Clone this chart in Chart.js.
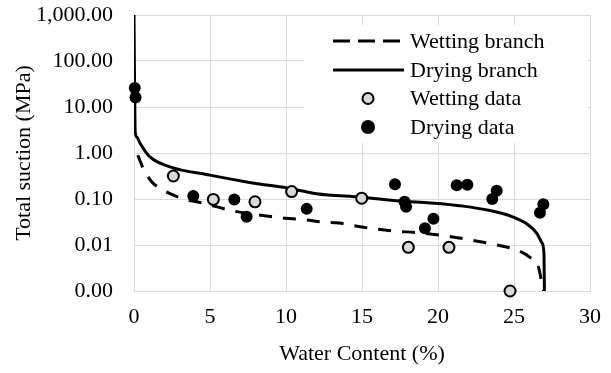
<!DOCTYPE html>
<html>
<head>
<meta charset="utf-8">
<script src="https://cdn.jsdelivr.net/npm/chart.js@4/dist/chart.umd.min.js"></script>
<style>
  html, body { margin: 0; padding: 0; background: #fff; }
  #wrap { width: 611px; height: 373px; }
</style>
</head>
<body>
<div id="wrap"><canvas id="suctionChart" width="611" height="373"></canvas></div>
<script>
// fitted curves
const wettingBranchW = [0.25, 0.61, 1.16, 1.71, 3.09, 4.6, 6.41, 8.18, 9.93, 11.4, 12.1, 13.5, 15.0, 17.0, 18.7, 20.5, 22.3, 23.9, 25.3, 26.05, 26.6, 26.8, 26.95];
const wettingBranchS = [0.9, 0.46, 0.238, 0.171, 0.105, 0.0806, 0.056, 0.0449, 0.038, 0.035, 0.0323, 0.030, 0.0245, 0.0202, 0.0185, 0.0158, 0.0126, 0.0100, 0.0075, 0.0054, 0.0034, 0.0017, 0.001];

const dryingBranchW = [0, 0.03, 0.07, 0.2, 0.39, 1.05, 2.37, 5.0, 7.8, 10.07, 12.0, 15.0, 17.5, 19.5, 21.66, 23.4, 24.9, 25.9, 26.5, 26.85, 26.97, 27.0];
const dryingBranchS = [1000, 60, 3.16, 2.2, 1.65, 0.82, 0.50, 0.33, 0.223, 0.174, 0.13, 0.109, 0.09, 0.082, 0.07, 0.056, 0.041, 0.028, 0.018, 0.011, 0.0065, 0.001];

// measured points
const wettingDataW = [2.59, 5.22, 7.96, 10.37, 14.98, 18.05, 20.72, 24.74];
const wettingDataS = [0.316, 0.098, 0.087, 0.145, 0.104, 0.0089, 0.0089, 0.001];

const dryingDataW = [0.05, 0.1, 3.9, 6.6, 7.41, 11.36, 17.17, 17.8, 17.9, 19.14, 19.7, 21.23, 21.93, 23.57, 23.86, 26.71, 26.93];
const dryingDataS = [26, 16, 0.116, 0.098, 0.041, 0.061, 0.209, 0.087, 0.068, 0.023, 0.037, 0.20, 0.205, 0.10, 0.151, 0.05, 0.077];

const yTicks = [0.001, 0.01, 0.1, 1, 10, 100, 1000];

function pairs(xs, ys) {
    return xs.map((x, i) => ({ x: x, y: ys[i] }));
}

const FONT = "'Times New Roman', 'Liberation Serif', 'DejaVu Serif', serif";
const FSIZE = 22;

// legend sits inside the plot, top right, on a white box
const boxLegend = {
    id: 'boxLegend',
    afterDraw(chart) {
        const ctx = chart.ctx;
        const ds = chart.data.datasets;
        ctx.save();
        ctx.fillStyle = '#fff';
        ctx.fillRect(304, 25, 284, 118);
        ctx.font = FSIZE + 'px ' + FONT;
        ctx.textBaseline = 'middle';
        ctx.textAlign = 'left';
        const rows = [41, 70, 98.5, 127];
        ds.forEach((d, i) => {
            const y = rows[i];
            if (d.showLine) {
                ctx.strokeStyle = d.borderColor;
                ctx.lineWidth = d.borderWidth;
                ctx.setLineDash(d.borderDash ? [17, 8] : []);
                ctx.beginPath();
                ctx.moveTo(333, y);
                ctx.lineTo(404, y);
                ctx.stroke();
                ctx.setLineDash([]);
            } else {
                ctx.beginPath();
                ctx.arc(368, y, d.pointRadius, 0, Math.PI * 2);
                ctx.fillStyle = d.pointBackgroundColor;
                ctx.fill();
                ctx.lineWidth = d.pointBorderWidth;
                ctx.strokeStyle = d.pointBorderColor;
                ctx.stroke();
            }
            ctx.fillStyle = '#000';
            ctx.fillText(d.label, 410, y + 1);
        });
        ctx.restore();
    }
};

const ctx = document.getElementById('suctionChart').getContext('2d');
new Chart(ctx, {
    type: 'scatter',
    data: {
        datasets: [
            {
                label: 'Wetting branch',
                data: pairs(wettingBranchW, wettingBranchS),
                showLine: true,
                borderColor: '#000',
                borderWidth: 3,
                borderDash: [13, 11],
                pointRadius: 0,
                cubicInterpolationMode: 'monotone',
                order: 2
            },
            {
                label: 'Drying branch',
                data: pairs(dryingBranchW, dryingBranchS),
                showLine: true,
                borderColor: '#000',
                borderWidth: 3,
                pointRadius: 0,
                cubicInterpolationMode: 'monotone',
                order: 2
            },
            {
                label: 'Wetting data',
                data: pairs(wettingDataW, wettingDataS),
                showLine: false,
                pointRadius: 5.5,
                pointBackgroundColor: '#d9d9d9',
                pointBorderColor: '#000',
                pointBorderWidth: 2,
                clip: false,
                order: 1
            },
            {
                label: 'Drying data',
                data: pairs(dryingDataW, dryingDataS),
                showLine: false,
                pointRadius: 6,
                pointBackgroundColor: '#000',
                pointBorderColor: '#000',
                pointBorderWidth: 0,
                clip: false,
                order: 1
            }
        ]
    },
    options: {
        responsive: false,
        animation: false,
        layout: { padding: { top: 15, right: 21, left: 0, bottom: 0 } },
        plugins: {
            legend: { display: false },
            tooltip: { enabled: false }
        },
        scales: {
            x: {
                type: 'linear',
                min: 0,
                max: 30,
                ticks: {
                    stepSize: 5,
                    padding: 13,
                    color: '#000',
                    font: { family: FONT, size: FSIZE }
                },
                grid: { color: '#d9d9d9', drawTicks: false },
                border: { color: '#d9d9d9' },
                title: {
                    display: true,
                    text: 'Water Content (%)',
                    color: '#000',
                    font: { family: FONT, size: FSIZE },
                    padding: { top: 0, bottom: 6 }
                },
                afterFit(scale) {
                    scale.height = 82;
                    scale.paddingLeft = 0;
                    scale.paddingRight = 0;
                }
            },
            y: {
                type: 'logarithmic',
                min: 0.001,
                max: 1000,
                afterBuildTicks(scale) {
                    scale.ticks = yTicks.map(v => ({ value: v }));
                },
                ticks: {
                    autoSkip: false,
                    padding: 21,
                    color: '#000',
                    font: { family: FONT, size: FSIZE },
                    callback: (v) => Number(v).toLocaleString('en-US', { minimumFractionDigits: 2, maximumFractionDigits: 2 })
                },
                grid: { color: '#d9d9d9', drawTicks: false },
                border: { color: '#d9d9d9' },
                title: {
                    display: true,
                    text: 'Total suction (MPa)',
                    color: '#000',
                    font: { family: FONT, size: FSIZE },
                    padding: { top: 11, bottom: 0 }
                },
                afterFit(scale) {
                    scale.width = 134;
                    scale.paddingTop = 0;
                    scale.paddingBottom = 0;
                }
            }
        }
    },
    plugins: [boxLegend]
});
</script>
</body>
</html>
